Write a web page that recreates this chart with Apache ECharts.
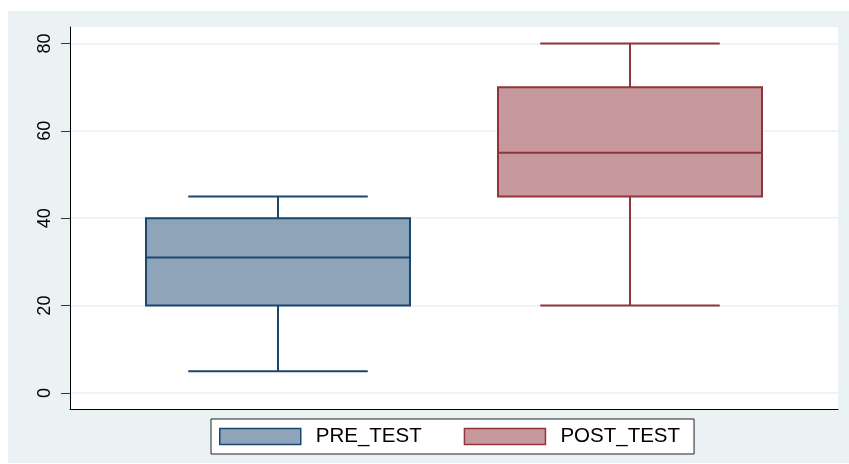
<!DOCTYPE html>
<html>
<head>
<meta charset="utf-8">
<script src="https://cdn.jsdelivr.net/npm/echarts@6/dist/echarts.min.js"></script>
<style>
  html, body { margin: 0; padding: 0; background: #fff; }
  #chart { position: absolute; left: 8px; top: 11px; width: 841px; height: 452px; }
</style>
</head>
<body>
<div id="chart"></div>
<script>
// box plot summary: [min, q1, median, q3, max]
const categories = ['PRE_TEST', 'POST_TEST'];
const preTest = [5, 20, 31, 40, 45];
const postTest = [20, 45, 55, 70, 80];
const yTicks = [0, 20, 40, 60, 80];

const colors = {
  PRE_TEST: { fill: '#8ea5b9', stroke: '#1a476f' },
  POST_TEST: { fill: '#c8999c', stroke: '#90353b' }
};

const yMin = -3.66, yMax = 83.77;

function renderBox(params, api) {
  const x = api.value(0);
  const pMin = api.coord([x, api.value(1)]);
  const pQ1 = api.coord([x, api.value(2)]);
  const pMed = api.coord([x, api.value(3)]);
  const pQ3 = api.coord([x, api.value(4)]);
  const pMax = api.coord([x, api.value(5)]);
  const band = api.size([1, 0])[0];
  const boxW = band * 0.75;
  const capW = band * 0.51;
  const c = colors[categories[x]];
  const line = { stroke: c.stroke, lineWidth: 2 };
  const cx = pMed[0];
  return {
    type: 'group',
    children: [
      { type: 'line', shape: { x1: cx, y1: pQ3[1], x2: cx, y2: pMax[1] }, style: line },
      { type: 'line', shape: { x1: cx, y1: pQ1[1], x2: cx, y2: pMin[1] }, style: line },
      { type: 'line', shape: { x1: cx - capW / 2, y1: pMax[1], x2: cx + capW / 2, y2: pMax[1] }, style: line },
      { type: 'line', shape: { x1: cx - capW / 2, y1: pMin[1], x2: cx + capW / 2, y2: pMin[1] }, style: line },
      { type: 'rect', shape: { x: cx - boxW / 2, y: pQ3[1], width: boxW, height: pQ1[1] - pQ3[1] },
        style: { fill: c.fill, stroke: c.stroke, lineWidth: 2 } },
      { type: 'line', shape: { x1: cx - boxW / 2, y1: pMed[1], x2: cx + boxW / 2, y2: pMed[1] }, style: line }
    ]
  };
}

const chart = echarts.init(document.getElementById('chart'));

chart.setOption({
  animation: false,
  backgroundColor: '#eaf2f3',
  textStyle: { fontFamily: 'Liberation Sans, Arial, sans-serif' },
  grid: [
    { left: 62, right: 11, top: 16, bottom: 54, show: true, backgroundColor: '#fff', borderWidth: 0 },
    { left: 94, right: 43, top: 16, bottom: 54 }
  ],
  legend: {
    left: 203,
    top: 408,
    orient: 'horizontal',
    backgroundColor: '#fff',
    borderColor: '#222',
    borderWidth: 1,
    borderRadius: 0,
    padding: [7, 14, 7, 8],
    itemWidth: 81,
    itemHeight: 16,
    itemGap: 42,
    textStyle: { fontSize: 20.5, color: '#000', padding: [0, 0, 0, 10] },
    data: categories.map(function (name) {
      return {
        name: name,
        icon: 'rect',
        itemStyle: { color: colors[name].fill, borderColor: colors[name].stroke, borderWidth: 1.5 }
      };
    })
  },
  xAxis: [
    {
      gridIndex: 0, type: 'value', min: 0, max: 1,
      axisLine: { show: true, onZero: false, lineStyle: { color: '#000', width: 1 } },
      axisTick: { show: false }, axisLabel: { show: false }, splitLine: { show: false }
    },
    {
      gridIndex: 1, type: 'category', data: categories,
      axisLine: { show: false }, axisTick: { show: false }, axisLabel: { show: false }
    }
  ],
  yAxis: [
    {
      gridIndex: 0, type: 'value', min: yMin, max: yMax,
      axisLine: { show: true, lineStyle: { color: '#000', width: 1 } },
      axisTick: { show: true, length: 9, customValues: yTicks, lineStyle: { color: '#333' } },
      axisLabel: {
        customValues: yTicks, rotate: 90, margin: 16,
        fontSize: 18, color: '#000'
      },
      splitLine: { show: true, lineStyle: { color: '#eaf2f3', width: 1.5 } }
    },
    {
      gridIndex: 1, type: 'value', min: yMin, max: yMax,
      axisLine: { show: false }, axisTick: { show: false }, axisLabel: { show: false },
      splitLine: { show: false }
    }
  ],
  series: [
    {
      name: 'PRE_TEST', type: 'custom', xAxisIndex: 1, yAxisIndex: 1,
      itemStyle: { color: colors.PRE_TEST.fill },
      renderItem: renderBox,
      encode: { x: 0, y: [1, 2, 3, 4, 5] },
      data: [[0].concat(preTest)]
    },
    {
      name: 'POST_TEST', type: 'custom', xAxisIndex: 1, yAxisIndex: 1,
      itemStyle: { color: colors.POST_TEST.fill },
      renderItem: renderBox,
      encode: { x: 0, y: [1, 2, 3, 4, 5] },
      data: [[1].concat(postTest)]
    }
  ]
});
</script>
</body>
</html>
